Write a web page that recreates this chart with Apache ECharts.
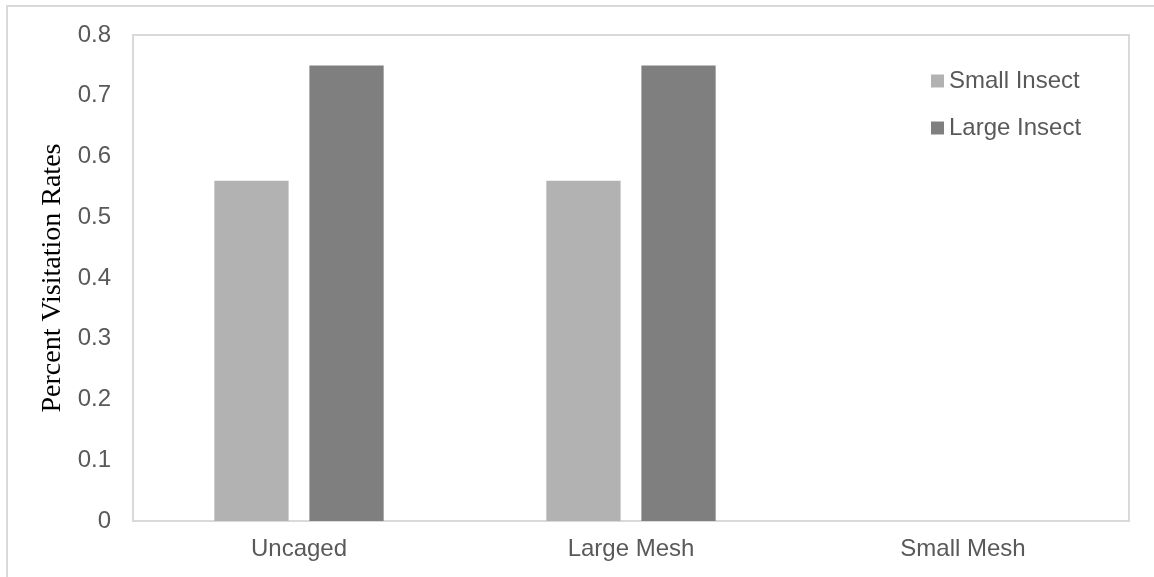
<!DOCTYPE html>
<html>
<head>
<meta charset="utf-8">
<script src="https://cdn.jsdelivr.net/npm/echarts@6/dist/echarts.min.js"></script>
<style>
  html, body { margin: 0; padding: 0; background: #fff; }
  #chart { width: 1154px; height: 577px; }
</style>
</head>
<body>
<div id="chart"></div>
<script>
// Visitation rates by cage treatment
const categories = ['Uncaged', 'Large Mesh', 'Small Mesh'];
const smallInsect = [0.56, 0.56, 0];
const largeInsect = [0.75, 0.75, 0];
const seriesNames = ['Small Insect', 'Large Insect'];

const chart = echarts.init(document.getElementById('chart'), null, { renderer: 'canvas' });

const labelFont = { fontFamily: 'Liberation Sans, Arial, sans-serif', fontSize: 24, color: '#595959' };

chart.setOption({
  animation: false,
  backgroundColor: '#ffffff',
  graphic: [{
    type: 'rect',
    shape: { x: 7, y: 6, width: 1180, height: 620 },
    style: { fill: 'none', stroke: '#d9d9d9', lineWidth: 2 },
    z: -1
  }],
  grid: {
    left: 133, right: 25, top: 35, bottom: 56,
    show: true, borderColor: '#d9d9d9', borderWidth: 2, backgroundColor: 'transparent'
  },
  legend: {
    orient: 'vertical',
    left: 926, top: 64,
    itemWidth: 13, itemHeight: 13, itemGap: 23,
    icon: 'rect',
    textStyle: labelFont,
    data: seriesNames
  },
  xAxis: {
    type: 'category',
    data: categories,
    axisLine: { show: false },
    axisTick: { show: false },
    axisLabel: Object.assign({}, labelFont, { margin: 16 }),
    splitLine: { show: false }
  },
  yAxis: {
    type: 'value',
    min: 0, max: 0.8, interval: 0.1,
    name: 'Percent Visitation Rates',
    nameLocation: 'middle',
    nameGap: 62,
    nameTextStyle: { fontFamily: 'Liberation Serif, Times New Roman, serif', fontSize: 28, color: '#000000' },
    axisLine: { show: false },
    axisTick: { show: false },
    splitLine: { show: false },
    axisLabel: Object.assign({}, labelFont, { margin: 22 })
  },
  series: [
    {
      name: seriesNames[0], type: 'bar', data: smallInsect,
      itemStyle: { color: '#b2b2b2' },
      barGap: '28%', barCategoryGap: '49%'
    },
    {
      name: seriesNames[1], type: 'bar', data: largeInsect,
      itemStyle: { color: '#7f7f7f' },
      barGap: '28%', barCategoryGap: '49%'
    }
  ]
});
</script>
</body>
</html>
